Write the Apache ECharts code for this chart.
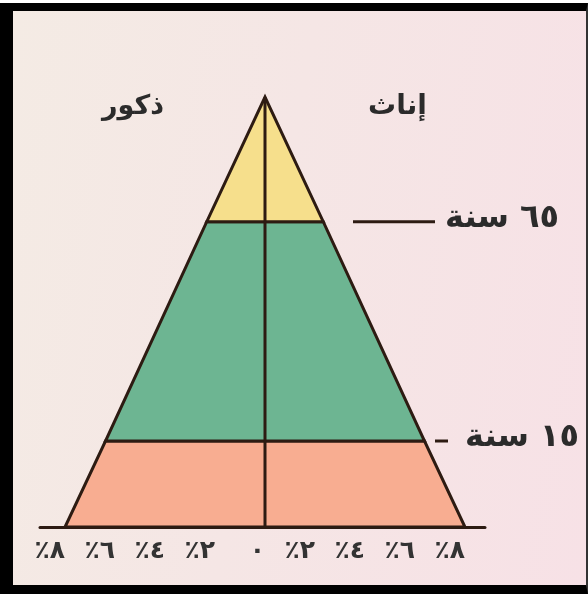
<!DOCTYPE html>
<html>
<head>
<meta charset="utf-8">
<script src="https://cdn.jsdelivr.net/npm/echarts@6/dist/echarts.min.js"></script>
<style>
    html, body { margin: 0; padding: 0; background: #fff; }
    #frame {
        position: absolute; left: 0; top: 3px; width: 588px; height: 591px;
        box-sizing: border-box;
        border-left: 13px solid #000; border-top: 8px solid #000;
        border-right: 2px solid #333; border-bottom: 9px solid #000;
        background: linear-gradient(100deg, #f4ebe4 0%, #f5e6e5 45%, #f7e1e6 100%);
    }
    #pyramid { position: absolute; left: 0; top: 0; width: 588px; height: 594px; }
</style>
</head>
<body>
<div id="frame"></div>
<div id="pyramid"></div>
<script>
// age bands, bottom to top (vertical scale 0..100 of the pyramid height)
var bandBottoms = [0, 20, 71];
var bandTops = [20, 71, 100];
// half width (in %) at bottom and top of each band
var bandBottomWidths = [8, 6.38, 2.33];
var bandTopWidths = [6.38, 2.33, 0];
var bandColors = ['#f8ad91', '#6db592', '#f6df8c'];

var xTickValues = [-8, -6, -4, -2, 0, 2, 4, 6, 8];
var xTickLabels = ['٪٨', '٪٦', '٪٤', '٪٢', '٠', '٪٢', '٪٤', '٪٦', '٪٨'];

var ageLevels = [71, 20];
var ageLabels = ['٦٥ سنة', '١٥ سنة'];

var sideNames = ['ذكور', 'إناث'];

var edgeColor = '#2d1b12';
var textColor = '#2b2b2b';
var arabicFont = 'DejaVu Sans';

var chart = echarts.init(document.getElementById('pyramid'));

var bandData = bandBottoms.map(function (b, i) {
    return [b, bandTops[i], bandBottomWidths[i], bandTopWidths[i]];
});

// marker line extents in px relative to the center line
var markerLines = [[88, 170], [170, 183]];
var markerText = [180, 200];

chart.setOption({
    animation: false,
    grid: { left: 40, right: 103, top: 97, bottom: 67 },
    xAxis: {
        type: 'value',
        min: -9,
        max: 8.8,
        splitLine: { show: false },
        axisLine: { lineStyle: { color: edgeColor, width: 3 } },
        axisTick: {
            inside: true,
            length: 10,
            customValues: [-6, -4, -2, 2, 4, 6],
            lineStyle: { color: edgeColor, width: 4 }
        },
        axisLabel: {
            customValues: xTickValues,
            align: 'right',
            margin: 12,
            color: '#333',
            fontSize: 25,
            fontWeight: 'bold',
            fontFamily: arabicFont,
            formatter: function (v) {
                return xTickLabels[xTickValues.indexOf(v)];
            }
        }
    },
    yAxis: { type: 'value', min: 0, max: 100, show: false },
    series: [{
        type: 'custom',
        data: bandData,
        encode: { y: [0, 1] },
        renderItem: function (params, api) {
            var y0 = api.value(0), y1 = api.value(1), w0 = api.value(2), w1 = api.value(3);
            return {
                type: 'polygon',
                shape: { points: [api.coord([-w0, y0]), api.coord([w0, y0]), api.coord([w1, y1]), api.coord([-w1, y1])] },
                style: { fill: bandColors[params.dataIndex], stroke: edgeColor, lineWidth: 3, lineJoin: 'miter' }
            };
        }
    }, {
        type: 'line',
        data: [[0, 0], [0, 100]],
        symbol: 'none',
        z: 5,
        lineStyle: { color: edgeColor, width: 3 }
    }, {
        type: 'custom',
        data: ageLevels.map(function (v, i) { return [v, i]; }),
        encode: { y: 0 },
        clip: false,
        renderItem: function (params, api) {
            var i = params.dataIndex;
            var c = api.coord([0, api.value(0)]);
            return {
                type: 'group',
                children: [{
                    type: 'line',
                    shape: { x1: c[0] + markerLines[i][0], y1: c[1], x2: c[0] + markerLines[i][1], y2: c[1] },
                    style: { stroke: edgeColor, lineWidth: 3 }
                }, {
                    type: 'text',
                    style: {
                        x: c[0] + markerText[i], y: c[1] - 3,
                        text: ageLabels[i], fill: textColor,
                        font: 'bold 32px "' + arabicFont + '"',
                        align: 'left', verticalAlign: 'middle'
                    }
                }]
            };
        }
    }],
    graphic: [{
        type: 'text', left: 102, top: 93,
        style: { text: sideNames[0], fill: textColor, font: 'bold 27px "' + arabicFont + '"' }
    }, {
        type: 'text', left: 368, top: 93,
        style: { text: sideNames[1], fill: textColor, font: 'bold 28px "' + arabicFont + '"' }
    }]
});
</script>
</body>
</html>
